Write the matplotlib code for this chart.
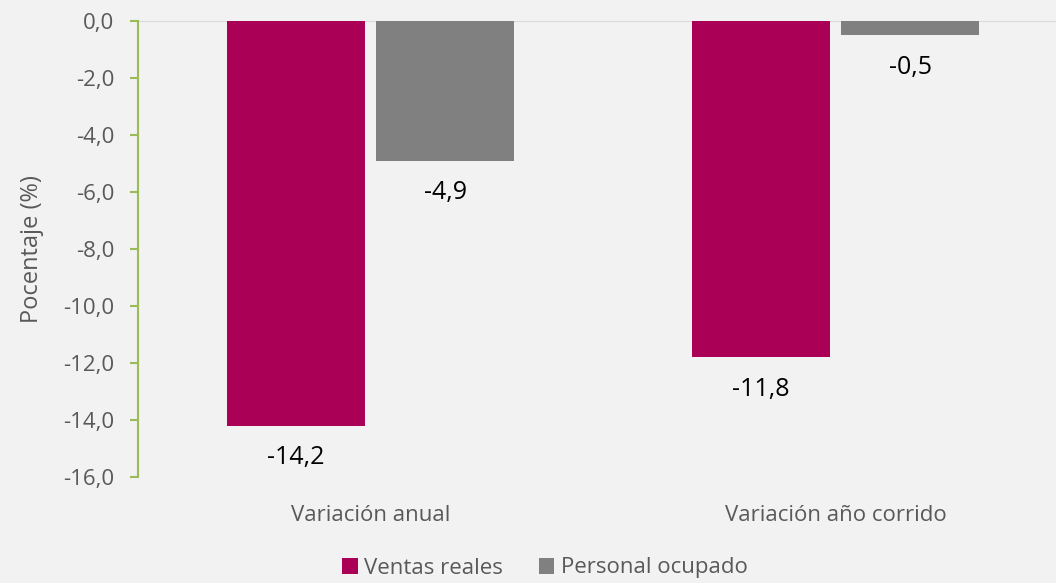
import matplotlib.pyplot as plt
import numpy as np

# ------------------------------------------------------------
# Data
# ------------------------------------------------------------
categories = ["Variación anual", "Variación año corrido"]
ventas_reales = [-14.2, -11.8]
personal_ocupado = [-4.9, -0.5]
series_names = ["Ventas reales", "Personal ocupado"]
y_ticks = [0, -2, -4, -6, -8, -10, -12, -14, -16]

# ------------------------------------------------------------
# Style
# ------------------------------------------------------------
plt.rcParams["font.family"] = ["Open Sans", "DejaVu Sans"]
BG = "#F2F2F2"
MAGENTA = "#AA0055"
GRAY = "#808080"
TEXT = "#595959"
GREEN = "#9BBB59"

fig = plt.figure(figsize=(10.56, 5.83), dpi=100, facecolor=BG)
ax = fig.add_axes([138 / 1056, 1 - 477 / 583, 930 / 1056, 456 / 583])
ax.set_facecolor(BG)

x = np.arange(len(categories))
w = 0.297
off = 0.161
b1 = ax.bar(x - off, ventas_reales, w, color=MAGENTA, label=series_names[0], zorder=3)
b2 = ax.bar(x + off, personal_ocupado, w, color=GRAY, label=series_names[1], zorder=3)

# data labels below the bar ends
for bars, vals in [(b1, ventas_reales), (b2, personal_ocupado)]:
    for rect, v in zip(bars, vals):
        ax.annotate(f"{v:.1f}".replace(".", ","),
                    (rect.get_x() + rect.get_width() / 2, v),
                    xytext=(0, -23), textcoords="offset points",
                    ha="center", va="center", fontsize=18, color="black")

ax.set_xlim(-0.5, 1.5)
ax.set_ylim(-16, 0)
ax.set_yticks(y_ticks)
ax.set_yticklabels([f"{t:.1f}".replace(".", ",") for t in y_ticks])
ax.set_xticks(x)
ax.set_xticklabels(categories)

for s in ["top", "right", "bottom"]:
    ax.spines[s].set_visible(False)
ax.spines["left"].set_color(GREEN)
ax.spines["left"].set_linewidth(1.5)
ax.axhline(0, color="#D9D9D9", lw=1.5, zorder=2)

ax.tick_params(axis="y", colors=GREEN, length=6, width=1.5, labelcolor=TEXT,
               labelsize=16, pad=11)
ax.tick_params(axis="x", length=0, labelcolor=TEXT, labelsize=16, pad=20)
ax.set_ylabel("Pocentaje (%)", color=TEXT, fontsize=17, labelpad=14)

leg = fig.legend(loc="center", bbox_to_anchor=(545 / 1056, 1 - 568 / 583),
                 ncol=2, frameon=False, fontsize=16, labelcolor=TEXT,
                 handlelength=0.7, handleheight=0.7, handletextpad=0.3,
                 columnspacing=1.6)

fig.savefig("out.png", dpi=100, facecolor=BG)
